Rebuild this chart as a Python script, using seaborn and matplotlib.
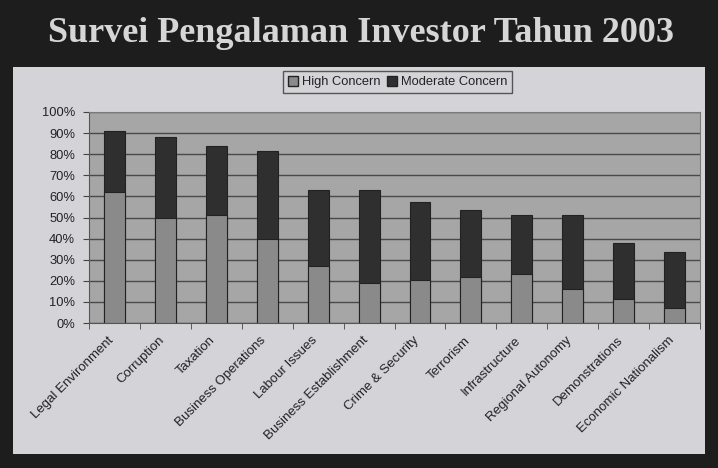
import pandas as pd
import matplotlib.pyplot as plt
import matplotlib.patches as mpatches
import matplotlib.transforms as mtransforms
import seaborn as sns

# Survey data (share of respondents)
categories = ['Legal Environment', 'Corruption', 'Taxation', 'Business Operations',
              'Labour Issues', 'Business Establishment', 'Crime & Security', 'Terrorism',
              'Infrastructure', 'Regional Autonomy', 'Demonstrations', 'Economic Nationalism']
high_concern = [62, 50, 51, 40, 27, 19, 20.5, 22, 23, 16, 11.5, 7]
moderate_concern = [29, 38, 33, 41.5, 36, 44, 37, 31.5, 28, 35, 26.5, 26.5]
y_ticks = list(range(0, 101, 10))

df = pd.DataFrame({'category': categories, 'high': high_concern, 'moderate': moderate_concern})
df['total'] = df['high'] + df['moderate']

high_color = '#8a8a8a'
mod_color = '#2f2f2f'

sns.set_style('white')
plt.rcParams['font.family'] = ['Liberation Sans', 'DejaVu Sans']

fig = plt.figure(figsize=(7.18, 4.68), dpi=100)
fig.patch.set_facecolor('#1d1d1d')

# light slide panel behind the chart
panel = mpatches.Rectangle((0.018, 0.030), 0.964, 0.827, transform=fig.transFigure,
                           facecolor='#d4d4d8', edgecolor='none', zorder=-5)
fig.patches.append(panel)

fig.text(0.503, 0.928, 'Survei Pengalaman Investor Tahun 2003', ha='center', va='center',
         fontsize=26, fontweight='bold', color='#d6d6d6', family='Liberation Serif')

ax = fig.add_axes([0.124, 0.3098, 0.851, 0.4509])
ax.set_zorder(1)
ax.set_facecolor('#a6a6a6')

# stacked bars: total first (moderate part shows on top), then high concern
sns.barplot(data=df, x='category', y='total', color=mod_color, width=0.41,
            saturation=1, edgecolor='#222222', linewidth=0.8, ax=ax, zorder=3)
sns.barplot(data=df, x='category', y='high', color=high_color, width=0.41,
            saturation=1, edgecolor='#222222', linewidth=0.8, ax=ax, zorder=4)

n = len(categories)
ax.set_ylim(0, 100)
ax.set_xlim(-0.5, n - 0.5)
ax.set_yticks(y_ticks)
ax.set_yticklabels([f'{t}%' for t in y_ticks], fontsize=9.3, color='#222222')
ax.set_xticks(range(n))
ax.set_xticklabels(categories, rotation=45, ha='right', rotation_mode='anchor',
                   fontsize=9.5, color='#222222')
ax.set_xticks([i - 0.5 for i in range(n + 1)], minor=True)
ax.set_xlabel('')
ax.set_ylabel('')
ax.yaxis.grid(True, color='#4a4a4a', linewidth=1)
ax.set_axisbelow(True)
ax.tick_params(axis='y', length=4, color='#444444', pad=6, left=True)
ax.tick_params(axis='x', which='major', length=0, pad=6)
ax.tick_params(axis='x', which='minor', length=4, color='#444444', bottom=True)

# nudge rotated labels so they end just left of the bar centre
shift = mtransforms.ScaledTranslation(-7 / 100, -3 / 100, fig.dpi_scale_trans)
for lbl in ax.get_xticklabels():
    lbl.set_transform(lbl.get_transform() + shift)

for s in ['top', 'right']:
    ax.spines[s].set_color('#7a7a7a')
    ax.spines[s].set_linewidth(0.8)
for s in ['left', 'bottom']:
    ax.spines[s].set_color('#555555')
    ax.spines[s].set_linewidth(0.8)

handles = [mpatches.Patch(facecolor=high_color, edgecolor='#222222', label='High Concern'),
           mpatches.Patch(facecolor=mod_color, edgecolor='#222222', label='Moderate Concern')]
fig.legend(handles=handles, loc='center', bbox_to_anchor=(0.554, 0.825), ncol=2,
           fontsize=9.3, frameon=True, fancybox=False, edgecolor='#555555',
           facecolor='#d4d4d8', framealpha=1, handlelength=0.8, handleheight=0.8,
           handletextpad=0.3, columnspacing=0.5, borderpad=0.35, labelcolor='#222222')

fig.savefig('out.png', dpi=100, facecolor=fig.get_facecolor())
